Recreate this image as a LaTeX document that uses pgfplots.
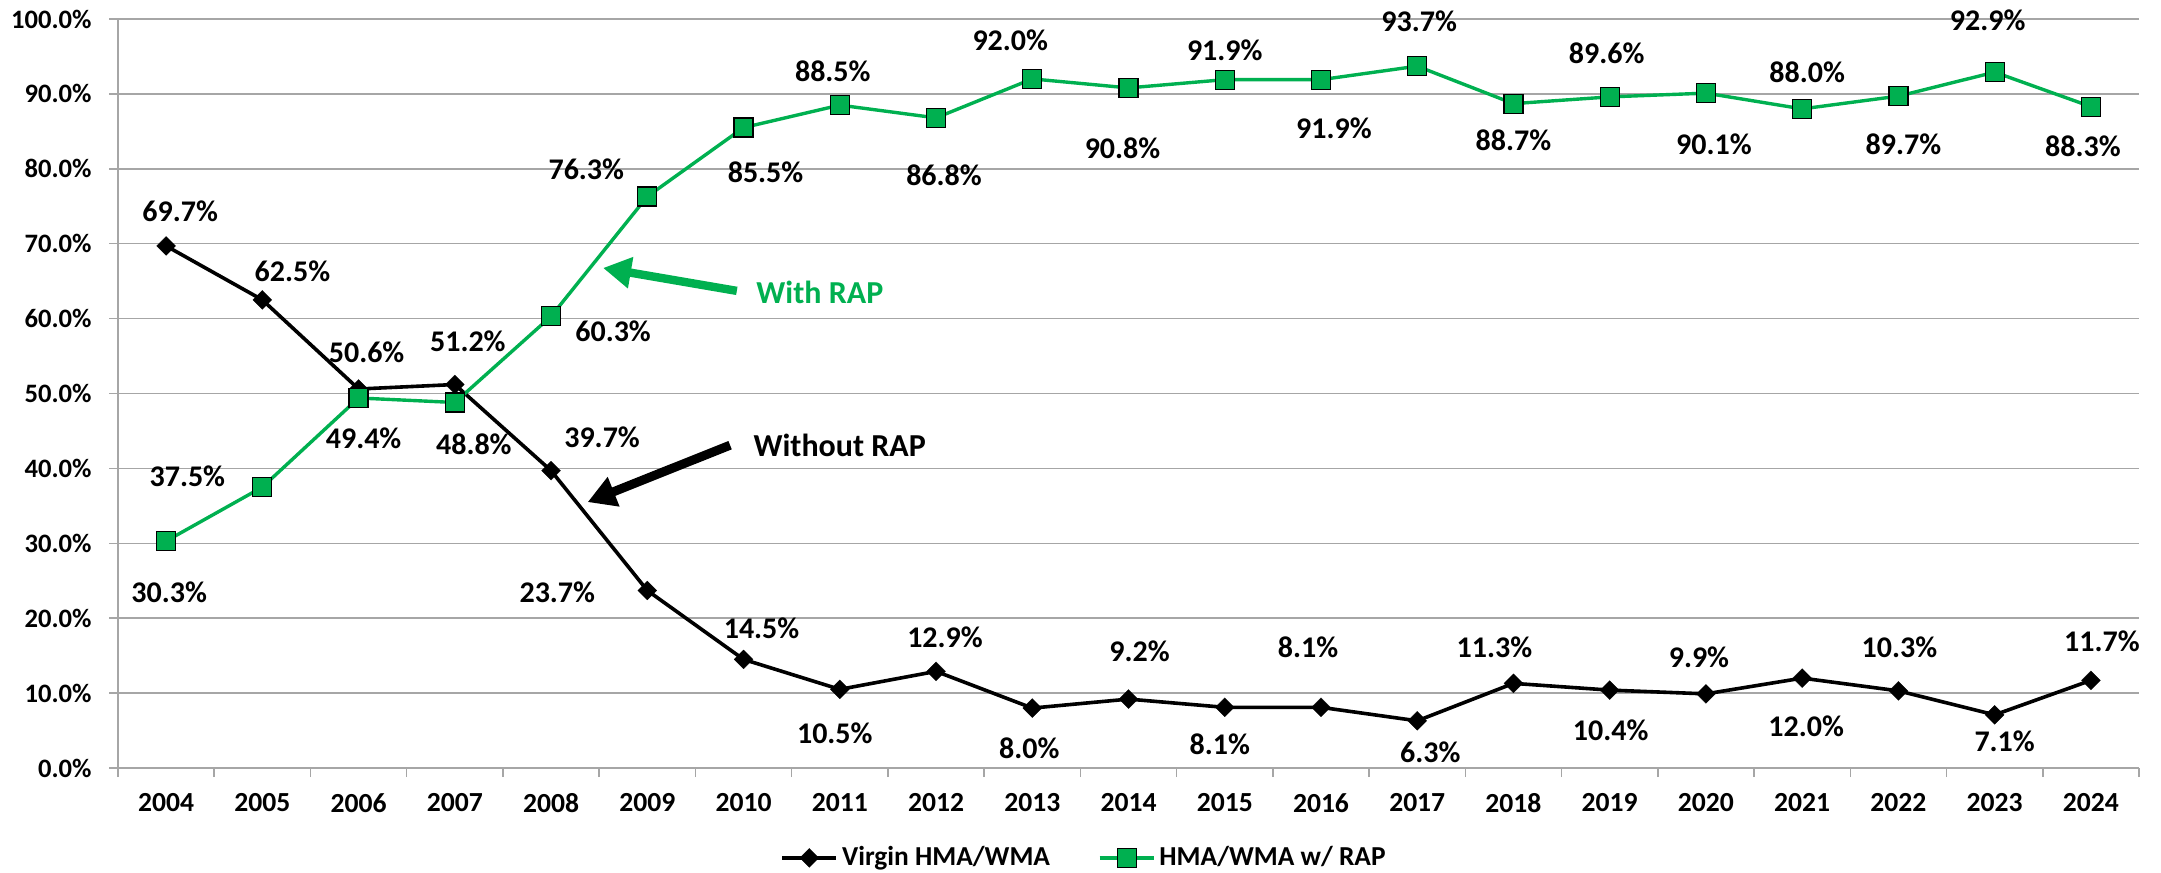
\documentclass[border=0pt]{standalone}
\usepackage{pgfplots}
\pgfplotsset{compat=1.18}
\usepackage{pgfplotstable}
\usepackage{fontspec}
\setmainfont{Carlito}
\usetikzlibrary{arrows.meta}
\definecolor{rapgreen}{HTML}{00B050}
\definecolor{gridgray}{HTML}{A6A6A6}

\pgfplotstableread{
x y lbl dx dy
0 69.7 69.7 14 35
1 62.5 62.5 30 29
2 50.6 50.6 8 37
3 51.2 51.2 13 43
4 39.7 39.7 51 33
5 23.7 23.7 -90 -2
6 14.5 14.5 18 31
7 10.5 10.5 -5 -44
8 12.9 12.9 9 34
9 8.0 8.0 -3 -40
10 9.2 9.2 11 48
11 8.1 8.1 -5 -37
12 8.1 8.1 -13 60
13 6.3 6.3 13 -31
14 11.3 11.3 -19 36
15 10.4 10.4 1 -40
16 9.9 9.9 -7 37
17 12.0 12.0 4 -48
18 10.3 10.3 1 44
19 7.1 7.1 10 -26
20 11.7 11.7 11 39
}\virgin

\pgfplotstableread{
x y lbl dx dy
0 30.3 30.3 3 -51
1 37.5 37.5 -75 11
2 49.4 49.4 5 -40
3 48.8 48.8 19 -42
4 60.3 60.3 62 -15
5 76.3 76.3 -61 27
6 85.5 85.5 22 -45
7 88.5 88.5 -7 34
8 86.8 86.8 8 -57
9 92.0 92.0 -22 39
10 90.8 90.8 -6 -60
11 91.9 91.9 0 29
12 91.9 91.9 13 -49
13 93.7 93.7 2 45
14 88.7 88.7 0 -37
15 89.6 89.6 -3 44
16 90.1 90.1 8 -51
17 88.0 88.0 5 37
18 89.7 89.7 5 -48
19 92.9 92.9 -7 52
20 88.3 88.3 -8 -40
}\rap

\pgfplotsset{
  lbls/.style={
    forget plot, draw=none, mark=none,
    point meta=explicit symbolic,
    visualization depends on={0.5*\thisrow{dx} \as \labdx},
    visualization depends on={0.5*\thisrow{dy} \as \labdy},
    nodes near coords={\pgfplotspointmeta\%},
    every node near coord/.append style={anchor=center, inner sep=0pt, text=black,
      font=\fontsize{15}{18}\selectfont\bfseries,
      xshift=\labdx pt, yshift=\labdy pt},
  },
}

\begin{document}
\begin{tikzpicture}
\begin{axis}[
  scale only axis,
  width=1010.5pt, height=374.5pt,
  xmin=-0.5, xmax=20.5, ymin=0, ymax=100,
  clip=false,
  axis x line*=bottom, axis y line*=left,
  axis line style={gridgray, line width=0.75pt, -},
  xtick={0,...,20},
  xticklabels={2004,2005,2006,2007,2008,2009,2010,2011,2012,2013,2014,2015,2016,2017,2018,2019,2020,2021,2022,2023,2024},
  minor xtick={-0.5,0.5,...,20.5},
  ytick={0,10,...,100},
  minor ytick={0,10,...,100},
  major tick length=0pt,
  minor tick length=4.5pt,
  tick align=outside,
  tick style={gridgray, line width=0.75pt},
  minor tick style={gridgray, line width=0.75pt},
  ymajorgrids,
  major grid style={gridgray, line width=0.75pt},
  scaled y ticks=false,
  /pgf/number format/assume math mode=true,
  yticklabel={\pgfmathprintnumber[fixed,fixed zerofill,precision=1]{\tick}\%},
  tick label style={font=\fontsize{13.3}{15}\selectfont\bfseries, text=black},
  yticklabel style={anchor=east, inner sep=0pt, xshift=-13pt},
  xticklabel style={anchor=center, inner sep=0pt, yshift=-17.5pt, font=\fontsize{13.8}{16}\selectfont\bfseries},
  legend columns=2,
  legend style={at={(axis description cs:0.4785,-0.120)}, anchor=center, draw=none, fill=none,
    font=\fontsize{13.7}{16}\selectfont\bfseries,
    /tikz/every even column/.append style={column sep=22pt}},
  legend cell align=left,
  legend image code/.code={\draw[mark repeat=2,mark phase=2,#1] plot coordinates {(0pt,0pt) (13.5pt,0pt) (27pt,0pt)};},
]
\addplot[black, line width=1.8pt, mark=square*, mark size=3.36pt,
  mark options={rotate=45, fill=black, draw=black, line width=0.1pt}]
  table[x=x, y=y]{\virgin};
\addlegendentry{Virgin HMA/WMA}
\addplot[rapgreen, line width=1.7pt, mark=square*, mark size=4.75pt,
  mark options={fill=rapgreen, draw=black, line width=0.6pt}]
  table[x=x, y=y]{\rap};
\addlegendentry{HMA/WMA w/ RAP}

\addplot[lbls] table[x=x, y=y, meta=lbl]{\virgin};
\addplot[lbls] table[x=x, y=y, meta=lbl]{\rap};

\draw[rapgreen, line width=4.2pt, -{Triangle[length=14pt, width=15pt]}]
  (axis cs:5.93,63.7) -- (axis cs:4.54,66.76);
\draw[black, line width=4.5pt, -{Triangle[length=14pt, width=15pt]}]
  (axis cs:5.86,43.1) -- (axis cs:4.38,35.5);
\node[anchor=west, inner sep=0pt, text=rapgreen, font=\fontsize{16}{19}\selectfont\bfseries]
  at (axis cs:6.13,63.55) {With RAP};
\node[anchor=west, inner sep=0pt, text=black, font=\fontsize{16}{19}\selectfont\bfseries]
  at (axis cs:6.10,43.12) {Without RAP};

\coordinate (bl) at (rel axis cs:0,0);
\coordinate (tr) at (rel axis cs:1,1);
\end{axis}
\pgfresetboundingbox
\path[use as bounding box] ([xshift=-59pt,yshift=-52pt]bl) rectangle ([xshift=11pt,yshift=9.5pt]tr);
\end{tikzpicture}
\end{document}
